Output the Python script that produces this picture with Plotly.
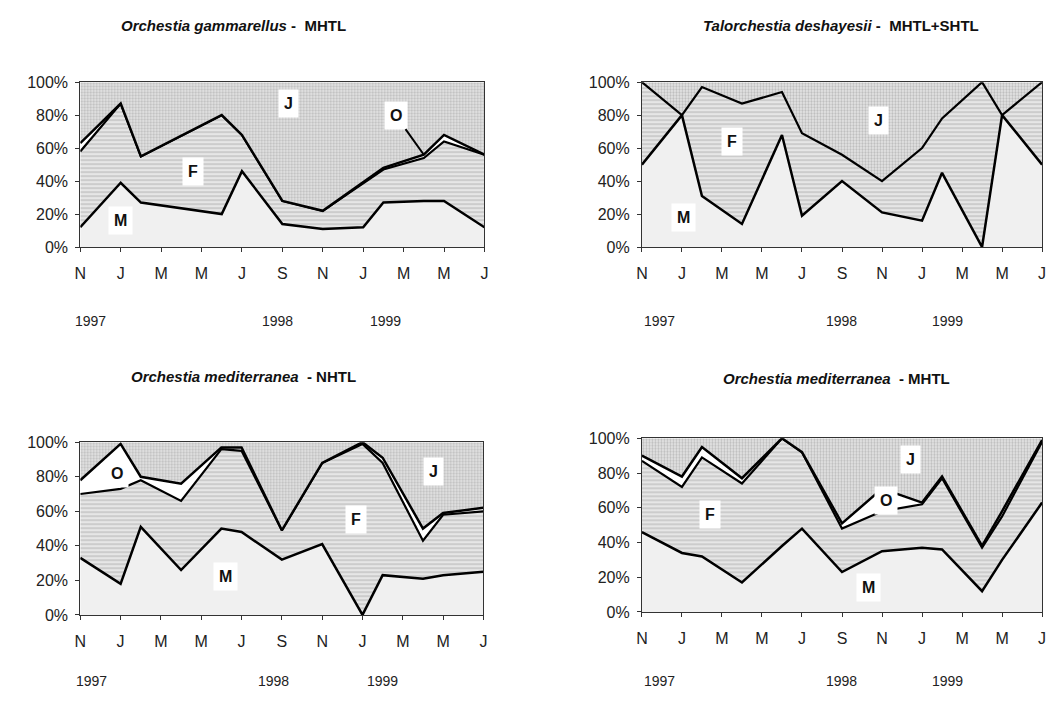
import plotly.graph_objects as go

# Eje de meses (0 = noviembre 1997)
tick_months = [0, 2, 4, 6, 8, 10, 12, 14, 16, 18, 20]
tick_text = ["N", "J", "M", "M", "J", "S", "N", "J", "M", "M", "J"]
pct_vals = [0, 20, 40, 60, 80, 100]
pct_text = ["0%", "20%", "40%", "60%", "80%", "100%"]
years = ["1997", "1998", "1999"]

# Orchestia gammarellus - MHTL
og_months = [0, 2, 3, 7, 8, 10, 12, 14, 15, 17, 18, 20]
og_M = [12, 39, 27, 20, 46, 14, 11, 12, 27, 28, 28, 12]
og_F = [46, 48, 28, 60, 22, 14, 11, 27, 20, 26, 36, 44]
og_O = [5, 0, 0, 0, 0, 0, 0, 0, 1, 2, 4, 0]
og_J = [37, 13, 45, 20, 32, 72, 78, 61, 52, 44, 32, 44]

# Talorchestia deshayesii - MHTL+SHTL
td_months = [0, 2, 3, 5, 7, 8, 10, 12, 14, 15, 17, 18, 20]
td_M = [50, 80, 31, 14, 68, 19, 40, 21, 16, 45, 0, 80, 50]
td_F = [50, 0, 66, 73, 26, 50, 16, 19, 44, 33, 100, 0, 50]
td_J = [0, 20, 3, 13, 6, 31, 44, 60, 40, 22, 0, 20, 0]

# Orchestia mediterranea - NHTL
on_months = [0, 2, 3, 5, 7, 8, 10, 12, 14, 15, 17, 18, 20]
on_M = [33, 18, 51, 26, 50, 48, 32, 41, 0, 23, 21, 23, 25]
on_F = [37, 55, 27, 40, 46, 47, 17, 47, 99, 65, 22, 35, 35]
on_O = [8, 26, 2, 10, 1, 2, 0, 0, 1, 3, 7, 1, 2]
on_J = [22, 1, 20, 24, 3, 3, 51, 12, 0, 9, 50, 41, 38]

# Orchestia mediterranea - MHTL
om_months = [0, 2, 3, 5, 7, 8, 10, 12, 14, 15, 17, 18, 20]
om_M = [46, 34, 32, 17, 38, 48, 23, 35, 37, 36, 12, 30, 63]
om_F = [41, 38, 57, 57, 62, 44, 25, 23, 25, 41, 25, 25, 35]
om_O = [3, 6, 6, 3, 0, 0, 3, 13, 1, 1, 1, 3, 1]
om_J = [10, 22, 5, 23, 0, 8, 49, 29, 37, 22, 62, 42, 1]

W, H = 1056, 701
FONT = "Liberation Sans, Arial, sans-serif"

panels = [
    dict(ax="", months=og_months, M=og_M, F=og_F, O=og_O, J=og_J,
         title="<i>Orchestia gammarellus</i> -  MHTL",
         px=(75, 483), py=(76, 245), tx=230, ty=18, yy=321,
         yx=[0.5, 9.75, 15.1],
         labels=[("J", 10.3, 87), ("F", 5.6, 46), ("M", 2.0, 16)]),
    dict(ax="2", months=td_months, M=td_M, F=td_F, O=None, J=td_J,
         title="<i>Talorchestia deshayesii</i> -  MHTL+SHTL",
         px=(642, 1046), py=(76, 245), tx=843, ty=18, yy=321,
         yx=[0.9, 9.95, 15.25],
         labels=[("J", 11.8, 77), ("F", 4.5, 64), ("M", 2.1, 18)]),
    dict(ax="3", months=on_months, M=on_M, F=on_F, O=on_O, J=on_J,
         title="<i>Orchestia mediterranea</i>&nbsp; - NHTL",
         px=(75, 482), py=(445, 622), tx=240, ty=378, yy=690,
         yx=[0.55, 9.6, 15.0],
         labels=[("O", 1.8, 82), ("F", 13.7, 55), ("J", 17.5, 83), ("M", 7.2, 22)]),
    dict(ax="4", months=om_months, M=om_M, F=om_F, O=om_O, J=om_J,
         title="<i>Orchestia mediterranea</i>&nbsp; - MHTL",
         px=(642, 1046), py=(441, 619), tx=838, ty=380, yy=690,
         yx=[0.9, 9.95, 15.25],
         labels=[("J", 13.4, 88), ("F", 3.4, 56), ("O", 12.2, 64), ("M", 11.3, 14)]),
]

fig = go.Figure()
annotations = []

for i, p in enumerate(panels):
    xa, ya = "x" + p["ax"], "y" + p["ax"]
    grp = "g" + str(i)

    # M: gris muy claro
    fig.add_trace(go.Scatter(
        x=p["months"], y=p["M"], xaxis=xa, yaxis=ya, stackgroup=grp,
        mode="lines", line=dict(color="black", width=2.5),
        fillcolor="#f0f0f0", showlegend=False, name="M"))
    # F: rayado horizontal
    fig.add_trace(go.Scatter(
        x=p["months"], y=p["F"], xaxis=xa, yaxis=ya, stackgroup=grp,
        mode="lines", line=dict(color="black", width=2.2),
        fillcolor="#e4e4e4",
        fillpattern=dict(shape="-", fgcolor="#808080", bgcolor="#e6e6e6",
                         size=4, solidity=0.25),
        showlegend=False, name="F"))
    # O: blanco
    if p["O"] is not None:
        fig.add_trace(go.Scatter(
            x=p["months"], y=p["O"], xaxis=xa, yaxis=ya, stackgroup=grp,
            mode="lines", line=dict(color="black", width=2.5),
            fillcolor="white", showlegend=False, name="O"))
    # J: punteado
    fig.add_trace(go.Scatter(
        x=p["months"], y=p["J"], xaxis=xa, yaxis=ya, stackgroup=grp,
        mode="lines", line=dict(color="black", width=0),
        fillcolor="#e4e4e4",
        fillpattern=dict(shape=".", fgcolor="#909090", bgcolor="#e6e6e6",
                         size=3, solidity=0.45),
        showlegend=False, name="J"))

    x0, x1 = p["px"]
    y0, y1 = p["py"]
    axis_style = dict(showline=True, linecolor="#333", linewidth=1, mirror=True,
                      ticks="outside", tickcolor="#333", ticklen=4,
                      showgrid=False, zeroline=False,
                      tickfont=dict(family=FONT, size=16, color="#222"))
    fig.update_layout({
        "xaxis" + p["ax"]: dict(domain=[x0 / W, x1 / W], anchor=ya, range=[0, 20],
                                tickvals=tick_months, ticktext=tick_text,
                                ticklabelstandoff=8, **axis_style),
        "yaxis" + p["ax"]: dict(domain=[1 - y1 / H, 1 - y0 / H], anchor=xa,
                                range=[0, 100], tickvals=pct_vals, ticktext=pct_text,
                                ticklabelstandoff=4, **axis_style),
    })

    # Titulo
    annotations.append(dict(text="<b>" + p["title"] + "</b>", xref="paper", yref="paper",
                            x=p["tx"] / W, y=1 - p["ty"] / H, showarrow=False,
                            xanchor="center", yanchor="middle",
                            font=dict(family=FONT, size=15, color="#111")))
    # Anos
    for yr, xv in zip(years, p["yx"]):
        annotations.append(dict(text=yr, xref=xa, yref="paper", x=xv,
                                y=1 - p["yy"] / H, showarrow=False,
                                xanchor="center", yanchor="middle",
                                font=dict(family=FONT, size=14, color="#222")))
    # Etiquetas de las areas
    for txt, xv, yv in p["labels"]:
        annotations.append(dict(text="<b>" + txt + "</b>", xref=xa, yref=ya, x=xv, y=yv,
                                showarrow=False, bgcolor="white", borderpad=5,
                                font=dict(family=FONT, size=16, color="#111")))

# Etiqueta O con flecha (Orchestia gammarellus)
annotations.append(dict(text="<b>O</b>", xref="x", yref="y", x=17, y=56,
                        axref="x", ayref="y", ax=15.6, ay=80,
                        showarrow=True, arrowhead=0, arrowwidth=2, arrowcolor="black",
                        bgcolor="white", borderpad=5,
                        font=dict(family=FONT, size=16, color="#111")))

fig.update_layout(width=W, height=H, margin=dict(l=0, r=0, t=0, b=0),
                  paper_bgcolor="white", plot_bgcolor="white",
                  font=dict(family=FONT), annotations=annotations)

fig.write_html("out.html", config={"displayModeBar": False},
               post_script="document.body.style.margin='0';")
